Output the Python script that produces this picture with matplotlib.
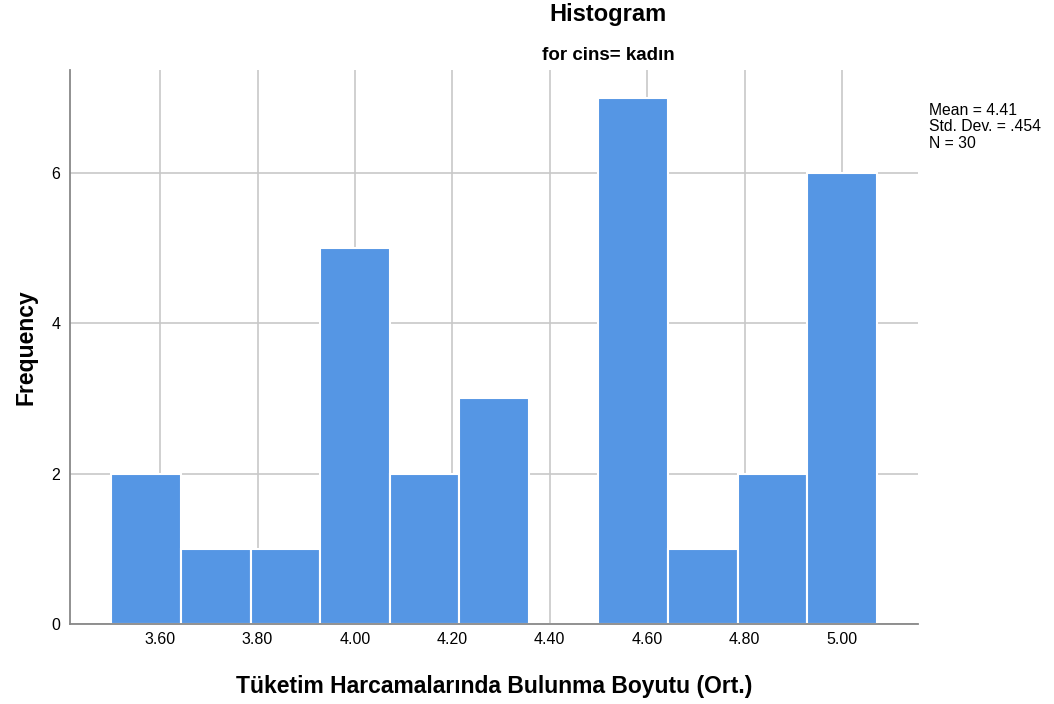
import numpy as np
import matplotlib
matplotlib.use("Agg")
from matplotlib import pyplot as plt

plt.rcParams['font.family'] = ['Liberation Sans', 'DejaVu Sans']

# histogram data (bin width 1/7 starting at 3.5)
bin_start = 3.5
bin_width = 1 / 7
counts = [2, 1, 1, 5, 2, 3, 0, 7, 1, 2, 6]
xticks = [3.60, 3.80, 4.00, 4.20, 4.40, 4.60, 4.80, 5.00]
yticks = [0, 2, 4, 6]
stats_text = "Mean = 4.41\nStd. Dev. = .454\nN = 30"

edges = bin_start + bin_width * np.arange(len(counts) + 1)

fig = plt.figure(figsize=(10.54, 7.04), dpi=100)
ax = fig.add_axes([70 / 1054, 80 / 704, 848 / 1054, 554 / 704])

ax.set_axisbelow(True)
ax.grid(True, color='#c8c8c8', linewidth=1.2)
ax.bar(edges[:-1], counts, width=bin_width, align='edge',
       color='#5596e4', edgecolor='white', linewidth=1.5)

ax.set_xlim(3.415, 5.156)
ax.set_ylim(0, 7.37)
ax.set_xticks(xticks)
ax.set_xticklabels([f"{t:.2f}" for t in xticks])
ax.set_yticks(yticks)
ax.tick_params(length=0, labelsize=11.5, pad=6)
ax.tick_params(axis='y', pad=7)

for s in ['top', 'right']:
    ax.spines[s].set_visible(False)
ax.spines['left'].set_color('#888888')
ax.spines['bottom'].set_color('#888888')
ax.spines['left'].set_linewidth(1.3)
ax.spines['bottom'].set_linewidth(1.3)

ax.set_ylabel("Frequency", fontsize=16.5, fontweight='bold', labelpad=10)
ax.set_xlabel("Tüketim Harcamalarında Bulunma Boyutu (Ort.)", fontsize=16.5,
              fontweight='bold', labelpad=20)

fig.text(608 / 1054, 1 - 15 / 704, "Histogram", ha='center', va='center',
         fontsize=17, fontweight='bold')
fig.text(608 / 1054, 1 - 55 / 704, "for cins= kadın", ha='center', va='center',
         fontsize=13.5, fontweight='bold')
fig.text(929 / 1054, 1 - 103 / 704, stats_text, ha='left', va='top',
         fontsize=11.3, linespacing=1.12)

plt.savefig("out.png", dpi=100)
